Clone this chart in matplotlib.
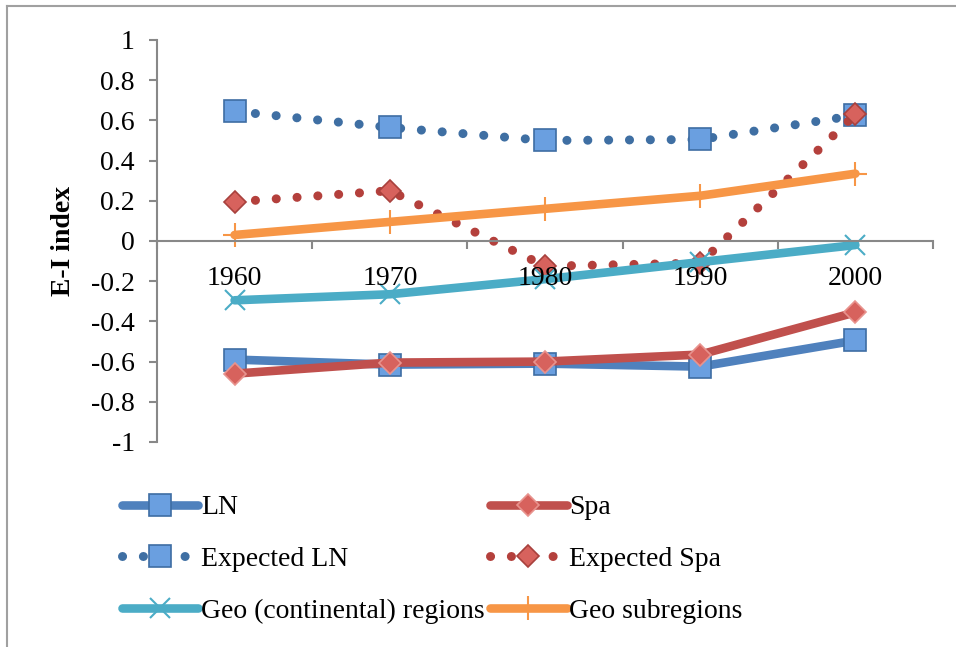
import numpy as np
import matplotlib
matplotlib.use("Agg")
from matplotlib import pyplot as plt
from matplotlib.lines import Line2D

plt.rcParams['font.family'] = ['Liberation Serif', 'DejaVu Serif']

years = ['1960', '1970', '1980', '1990', '2000']
ln = [-0.59, -0.615, -0.61, -0.625, -0.495]
spa = [-0.66, -0.605, -0.60, -0.565, -0.355]
expected_ln = [0.645, 0.565, 0.50, 0.505, 0.625]
expected_spa = [0.195, 0.25, -0.125, -0.11, 0.63]
geo_continental = [-0.295, -0.265, -0.19, -0.105, -0.02]
geo_subregions = [0.03, 0.095, 0.16, 0.225, 0.335]

y_ticks = [-1, -0.8, -0.6, -0.4, -0.2, 0, 0.2, 0.4, 0.6, 0.8, 1]
y_tick_labels = ['-1', '-0.8', '-0.6', '-0.4', '-0.2', '0', '0.2', '0.4', '0.6', '0.8', '1']

blue = '#4F81BD'
red = '#C0504D'
teal = '#4BACC6'
orange = '#F79646'
axis_gray = '#888888'

fig = plt.figure(figsize=(9.56, 6.47), dpi=100)
ax = fig.add_axes([157 / 956, 1 - 442 / 647, 776 / 956, 402 / 647])

x = np.arange(len(years))
lw = 6.2
fs = 20

ax.plot(x, ln, color=blue, lw=lw, solid_capstyle='round', solid_joinstyle='round',
        marker='s', ms=16, mfc='#6A9FE0', mec='#3E6DA3', mew=1.2, label='LN')
ax.plot(x, spa, color=red, lw=lw, solid_capstyle='round', solid_joinstyle='round',
        marker='D', ms=11.5, mfc='#D7625D', mec='#E8938E', mew=1.2, label='Spa')
ax.plot(x, expected_ln, color='#3F6FA3', lw=6.5, ls=(0, (0.01, 2.3)), dash_capstyle='round',
        marker='s', ms=16, mfc='#6A9FE0', mec='#3E6DA3', mew=1.2, label='Expected LN')
ax.plot(x, expected_spa, color='#B4403C', lw=6.5, ls=(0, (0.01, 2.3)), dash_capstyle='round',
        marker='D', ms=11.5, mfc='#D7625D', mec='#A8413D', mew=1.2, label='Expected Spa')
ax.plot(x, geo_continental, color=teal, lw=lw, solid_capstyle='round', solid_joinstyle='round',
        marker='x', ms=15, mec=teal, mew=1.5, label='Geo (continental) regions')
ax.plot(x, geo_subregions, color=orange, lw=lw, solid_capstyle='round', solid_joinstyle='round',
        marker='+', ms=17, mec=orange, mew=1.5, label='Geo subregions')

ax.set_xlim(-0.5, 4.5)
ax.set_ylim(-1, 1)

for s in ['top', 'right']:
    ax.spines[s].set_visible(False)
ax.spines['bottom'].set_position(('data', 0))
for s in ['left', 'bottom']:
    ax.spines[s].set_color(axis_gray)
    ax.spines[s].set_linewidth(1.5)

ax.set_xticks(np.arange(-0.5, 4.6, 1.0))
ax.set_xticklabels([])
ax.set_xticks(x, minor=True)
ax.set_xticklabels(years, minor=True)
ax.tick_params(axis='x', which='major', direction='out', length=6, width=1.5, color=axis_gray)
ax.tick_params(axis='x', which='minor', length=0, pad=18, labelsize=fs)

ax.set_yticks(y_ticks)
ax.set_yticklabels(y_tick_labels)
ax.tick_params(axis='y', direction='out', length=6, width=1.5, color=axis_gray, pad=10, labelsize=fs)
ax.set_axisbelow(False)

ax.set_ylabel('E-I index', fontsize=fs, fontweight='bold')
ax.yaxis.set_label_coords(-0.104, 0.5)

# legend: rows are LN/Spa, Expected LN/Expected Spa, Geo/Geo subregions
handles, labels = ax.get_legend_handles_labels()
order = [0, 2, 4, 1, 3, 5]
fig.legend([handles[i] for i in order], [labels[i] for i in order],
           ncol=2, loc='upper left', bbox_to_anchor=(108 / 956, 1 - 481 / 647),
           frameon=False, fontsize=fs, handlelength=2.75, handletextpad=0.1,
           labelspacing=0.95, columnspacing=0.2, borderpad=0)

# outer chart border (only top and left visible)
fig.add_artist(Line2D([7 / 956, 1], [1 - 6 / 647, 1 - 6 / 647], color='#A0A0A0', lw=1.5))
fig.add_artist(Line2D([7 / 956, 7 / 956], [0, 1 - 6 / 647], color='#A0A0A0', lw=1.5))

fig.savefig('out.png', dpi=100)
